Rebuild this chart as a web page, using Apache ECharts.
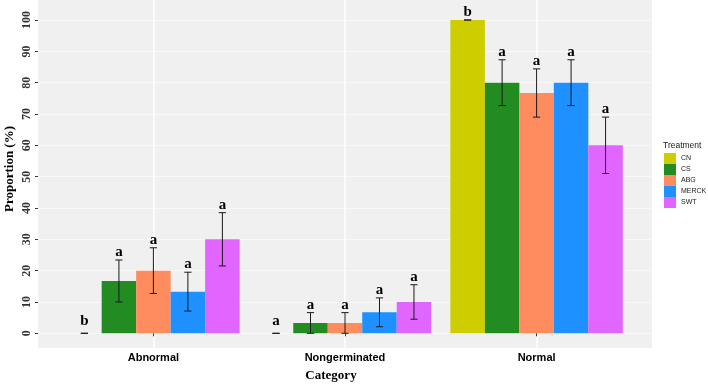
<!DOCTYPE html>
<html>
<head>
<meta charset="utf-8">
<script src="https://cdn.jsdelivr.net/npm/echarts@6/dist/echarts.min.js"></script>
<style>html,body{margin:0;padding:0;background:#fff}#c{width:708px;height:385px}</style>
</head>
<body>
<div id="c"></div>
<script>
// ---- data ----
var categories = ['Abnormal', 'Nongerminated', 'Normal'];
var treatments = ['CN', 'CS', 'ABG', 'MERCK', 'SWT'];
var CN = [0, 0, 100];
var CS = [16.7, 3.3, 80];
var ABG = [20, 3.3, 76.7];
var MERCK = [13.3, 6.7, 80];
var SWT = [30, 10, 60];
var CN_err = [0, 0, 0];
var CS_err = [6.7, 3.3, 7.3];
var ABG_err = [7.3, 3.3, 7.7];
var MERCK_err = [6.2, 4.6, 7.3];
var SWT_err = [8.5, 5.5, 9.0];
var CN_letters = ['b', 'a', 'b'];
var CS_letters = ['a', 'a', 'a'];
var ABG_letters = ['a', 'a', 'a'];
var MERCK_letters = ['a', 'a', 'a'];
var SWT_letters = ['a', 'a', 'a'];
var yTicks = [0, 10, 20, 30, 40, 50, 60, 70, 80, 90, 100];

var means = [CN, CS, ABG, MERCK, SWT];
var errs = [CN_err, CS_err, ABG_err, MERCK_err, SWT_err];
var letters = [CN_letters, CS_letters, ABG_letters, MERCK_letters, SWT_letters];
var colors = ['#CDCD00', '#228B22', '#FF8C5F', '#1E90FF', '#E066FF'];

var serif = '"Liberation Serif", "DejaVu Serif", serif';
var sans = '"Liberation Sans", Arial, sans-serif';

var chart = echarts.init(document.getElementById('c'), null, {renderer: 'canvas'});

var series = [];
treatments.forEach(function (t, j) {
  series.push({
    name: t, type: 'bar', xAxisIndex: 2, yAxisIndex: 2,
    data: means[j], barGap: 0, barCategoryGap: '10%',
    itemStyle: {color: colors[j]}, silent: true, z: 3
  });
});
// error bars + letters
var errData = [];
treatments.forEach(function (t, j) {
  categories.forEach(function (c, i) {
    errData.push([i, means[j][i], errs[j][i], j, letters[j][i]]);
  });
});
series.push({
  name: 'errors', type: 'custom', xAxisIndex: 2, yAxisIndex: 2, z: 5, silent: true,
  data: errData,
  renderItem: function (params, api) {
    var i = api.value(0), m = api.value(1), e = api.value(2), j = api.value(3);
    var lab = errData[params.dataIndex][4];
    var band = api.size([1, 0])[0];
    var bw = band * 0.9 / 5;
    var cx = api.coord([i, m])[0] + (j - 2) * bw;
    var lo = Math.max(0, m - e), hi = m + e;
    var yl = api.coord([i, lo])[1], yh = api.coord([i, hi])[1];
    var cap = 3.6;
    var st = {stroke: '#1a1a1a', lineWidth: 1};
    return {type: 'group', children: [
      {type: 'line', shape: {x1: cx, y1: yl, x2: cx, y2: yh}, style: st},
      {type: 'line', shape: {x1: cx - cap, y1: yl, x2: cx + cap, y2: yl}, style: st},
      {type: 'line', shape: {x1: cx - cap, y1: yh, x2: cx + cap, y2: yh}, style: st},
      {type: 'text', x: cx, y: yh - (e === 0 && m === 0 ? 12 : 8), style: {
        text: lab, fill: '#000', font: 'bold 15px ' + serif,
        textAlign: 'center', textVerticalAlign: 'middle'}}
    ]};
  }
});

var option = {
  animation: false,
  backgroundColor: '#ffffff',
  title: {
    text: 'Treatment', left: 663, top: 141,
    textStyle: {fontSize: 8.5, fontWeight: 'normal', color: '#1a1a1a', fontFamily: sans},
    padding: 0
  },
  legend: {
    data: treatments, orient: 'vertical', left: 664, top: 153,
    itemWidth: 12, itemHeight: 11, itemGap: 0, icon: 'rect', padding: 0,
    textStyle: {fontSize: 7, color: '#1a1a1a', fontFamily: sans},
    selectedMode: false
  },
  grid: [
    {left: 38, right: 56, top: 0, bottom: 37, show: true, backgroundColor: '#F0F0F0', borderWidth: 0},
    {left: 38, right: 56, top: 20.05, bottom: 51.7},
    {left: 153.4, right: 171.4, top: 0, bottom: 37}
  ],
  xAxis: [
    {gridIndex: 0, type: 'value', show: false},
    {gridIndex: 1, type: 'value', show: false},
    {gridIndex: 2, type: 'category', data: categories, boundaryGap: false,
      axisLine: {show: false},
      axisTick: {show: true, length: 3, lineStyle: {color: '#333'}},
      axisLabel: {margin: 4, fontSize: 11, fontWeight: 'bold', color: '#000', fontFamily: sans},
      splitLine: {show: true, lineStyle: {color: '#FFFFFF', width: 1.5}}
    }
  ],
  yAxis: [
    {gridIndex: 0, type: 'value', show: false},
    {gridIndex: 1, type: 'value', min: yTicks[0], max: yTicks[yTicks.length - 1], interval: 10,
      axisLine: {show: false},
      axisTick: {show: true, length: 3, lineStyle: {color: '#333'}},
      axisLabel: {rotate: 90, margin: 5, fontSize: 12, fontWeight: 'bold', color: '#333', fontFamily: serif},
      splitLine: {show: true, lineStyle: {color: '#F8F8F8', width: 1}}
    },
    {gridIndex: 2, type: 'value', min: -4.69, max: 106.38, show: false, splitLine: {show: false}}
  ],
  graphic: [
    {type: 'text', x: 10, y: 169, rotation: Math.PI / 2, style: {
      text: 'Proportion (%)', font: 'bold 13px ' + serif, fill: '#000',
      textAlign: 'center', textVerticalAlign: 'middle'}},
    {type: 'text', x: 331, y: 376, style: {
      text: 'Category', font: 'bold 13px ' + serif, fill: '#000',
      textAlign: 'center', textVerticalAlign: 'middle'}}
  ],
  series: series
};
chart.setOption(option);
</script>
</body>
</html>
